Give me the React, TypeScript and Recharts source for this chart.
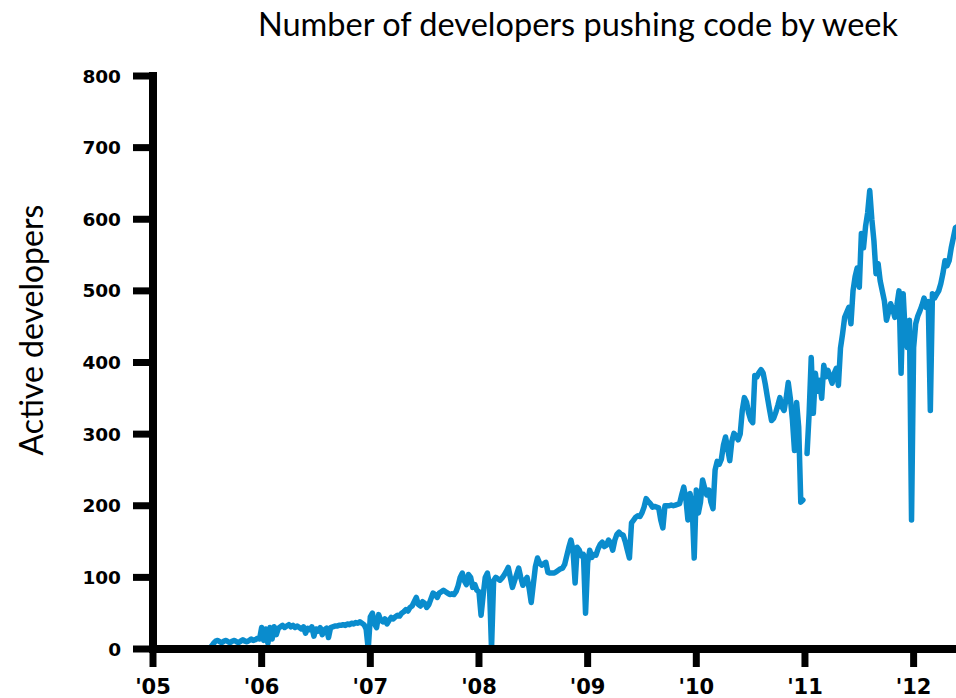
import React from 'react';
import { LineChart, Line, XAxis, YAxis } from 'recharts';

// weekly active developers (one value per week)
const dev2005: (number | null)[] = [0, 4, 8, 11, 12, 10, 9, 11, 12, 10, 9, 11, 12, 10, 9, 11, 13, 11, 10, 12, 14, 12, 13, 15, 14];
const start2005 = 27;
const dev2006: (number | null)[] = [
  30, 12, 28, 8, 30, 14, 31, 20, 29, 31, 33, 30, 32, 34, 31, 33, 30, 32,
  30, 28, 31, 22, 29, 27, 31, 18, 28, 25, 30, 20, 27, 29, 16,
  30, 31, 32, 32, 33, 33, 34, 33, 35, 34, 36, 35, 37, 36, 38, 36, 34, 28, 0,
];
const dev2007: (number | null)[] = [
  45, 50, 35, 30, 48, 40, 38, 42, 35, 40, 44, 42, 45, 47, 46, 50, 52, 55, 53, 58,
  60, 66, 72, 62, 60, 66, 64, 58, 62, 70, 78, 76, 72, 78, 80, 82, 80, 78, 76, 77,
  76, 80, 88, 100, 106, 95, 90, 104, 100, 86, 90, 82,
];
const dev2008: (number | null)[] = [
  80, 47, 75, 100, 106, 90, 0, 95, 100, 98, 96, 99, 103, 108, 114, 100, 86, 95, 104, 113,
  100, 89, 95, 100, 85, 65, 90, 115, 127, 120, 117, 119, 121, 107, 106, 106, 106, 108, 110, 112,
  113, 118, 130, 142, 152, 138, 92, 142, 138, 130, 132, 50,
];
const dev2009: (number | null)[] = [
  120, 138, 128, 132, 131, 140, 146, 149, 143, 145, 152, 148, 138, 152, 160, 163, 160, 159, 150, 138,
  127, 176, 180, 184, 186, 185, 190, 198, 210, 206, 203, 198, 199, 198, 197, 180, 169, 200, 200, 200,
  201, 200, 201, 202, 203, 215, 226, 210, 180, 217, 200, 127,
];
const dev2010: (number | null)[] = [
  222, 190, 205, 236, 225, 215, 222, 205, 196, 250, 262, 258, 265, 285, 296, 280, 263, 290, 301, 298,
  292, 300, 333, 351, 345, 330, 320, 316, 382, 380, 386, 390, 385, 370, 352, 335, 319, 322, 330, 340,
  351, 338, 333, 350, 372, 350, 320, 277, 344, 310, 205, 208,
];
const dev2011: (number | null)[] = [
  null, 273, 329, 407, 329, 385, 360, 375, 350, 396, 380, 389, 380, 371, 385, 392, 368, 420, 440, 463,
  470, 477, 454, 500, 520, 532, 505, 580, 560, 590, 609, 640, 600, 570, 524, 538, 514, 500, 486, 459,
  470, 482, 475, 463, 480, 500, 385, 496, 440, 421, 459, 180,
];
const dev2012: (number | null)[] = [
  421, 454, 465, 472, 480, 490, 477, 485, 333, 496, 490, 495, 500, 510, 524, 542, 535, 542, 560, 574,
  588, 590,
];

const yearTicks = [2005, 2006, 2007, 2008, 2009, 2010, 2011, 2012];
const devTicks = [0, 100, 200, 300, 400, 500, 600, 700, 800];

const byYear: [number, number, (number | null)[]][] = [
  [2005, start2005, dev2005],
  [2006, 0, dev2006],
  [2007, 0, dev2007],
  [2008, 0, dev2008],
  [2009, 0, dev2009],
  [2010, 0, dev2010],
  [2011, 0, dev2011],
  [2012, 0, dev2012],
];

const data = byYear.flatMap(([year, first, vals]) =>
  vals.map((v, i) => ({ week: year + (first + i) / 52, developers: v }))
);

const W = 956;
const H = 698;

export default function App() {
  const axisStroke = { stroke: '#000', strokeWidth: 8, strokeLinecap: 'square' as const };
  return (
    <div style={{ position: 'fixed', left: 0, top: 0, width: W, height: H, background: '#fff', overflow: 'hidden' }}>
      <div
        style={{
          position: 'absolute', left: 228, top: 4, width: 700, textAlign: 'center',
          fontFamily: 'Lato, sans-serif', fontSize: 32.5, color: '#000', whiteSpace: 'nowrap',
        }}
      >
        Number of developers pushing code by week
      </div>
      <div
        style={{
          position: 'absolute', left: 31 - 150, top: 330 - 20, width: 300, height: 40, lineHeight: '40px',
          textAlign: 'center', transform: 'rotate(-90deg)', fontFamily: 'Lato, sans-serif',
          fontSize: 32, color: '#000', whiteSpace: 'nowrap',
        }}
      >
        Active developers
      </div>
      <LineChart width={W} height={H} data={data} margin={{ top: 76, right: 0, bottom: 0, left: 0 }}>
        <XAxis
          dataKey="week"
          type="number"
          domain={[2005, 2012.39]}
          allowDataOverflow
          ticks={yearTicks}
          tickFormatter={(v) => `'${String(v).slice(2)}`}
          height={49}
          tickSize={18}
          tickMargin={12}
          axisLine={axisStroke}
          tickLine={{ stroke: '#000', strokeWidth: 7 }}
          tick={{ fill: '#000', fontSize: 21, fontWeight: 700, fontFamily: 'DejaVu Sans' }}
          interval={0}
        />
        <YAxis
          type="number"
          domain={[0, 800]}
          ticks={devTicks}
          width={153}
          tickSize={20}
          tickMargin={12}
          axisLine={axisStroke}
          tickLine={{ stroke: '#000', strokeWidth: 7 }}
          tick={{ fill: '#000', fontSize: 18.5, fontWeight: 700, fontFamily: 'DejaVu Sans' }}
          interval={0}
        />
        <Line
          type="linear"
          dataKey="developers"
          stroke="#0a8ccd"
          strokeWidth={5.5}
          strokeLinejoin="round"
          strokeLinecap="round"
          dot={false}
          activeDot={false}
          isAnimationActive={false}
        />
      </LineChart>
    </div>
  );
}
